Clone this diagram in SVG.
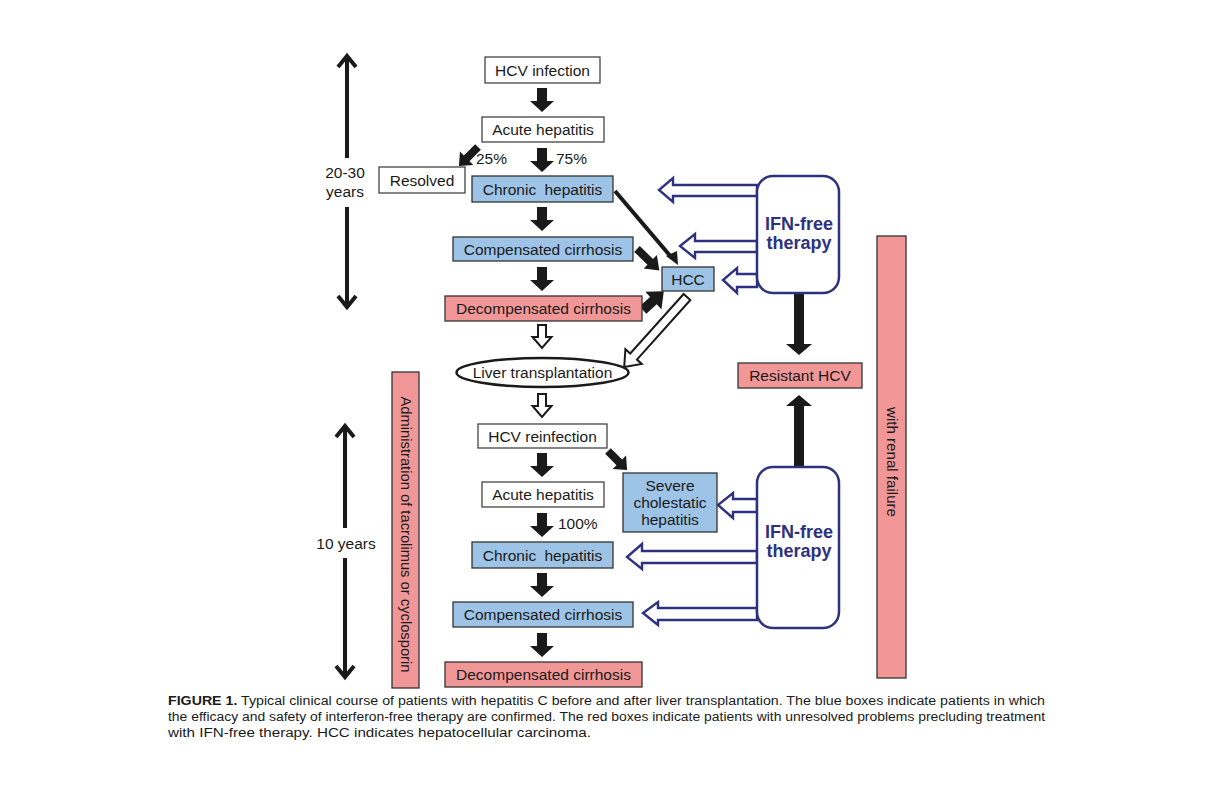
<svg xmlns="http://www.w3.org/2000/svg" width="1215" height="810" viewBox="0 0 1215 810">
<style>
text{font-family:"Liberation Sans",Arial,sans-serif;fill:#1a1a1a}
.t{font-size:15.5px;text-anchor:middle}
.w{fill:#fff;stroke:#444;stroke-width:1.3}
.b{fill:#9dc3e6;stroke:#333;stroke-width:1.3}
.r{fill:#f19797;stroke:#333;stroke-width:1.3}
.ifn{fill:#fff;stroke:#2e3180;stroke-width:2.5}
.ifnt{font-size:18px;font-weight:bold;fill:#2e3180;text-anchor:middle}
.fa{fill:#1a1a1a}
.ha{fill:#fff;stroke:#1a1a1a;stroke-width:2}
.na{fill:#fff;stroke:#2e3180;stroke-width:2.4;stroke-linejoin:miter}
.tl{fill:none;stroke:#1a1a1a;stroke-width:4}
.cap{font-size:12px}
</style>
<defs>
<polygon id="fat" points="-5,0 5,0 5,13 12,13 0,24 -12,13 -5,13"/>
<polygon id="hol" points="-4,0 4,0 4,12 9.5,12 0,23 -9.5,12 -4,12"/>
<polygon id="dia" points="-4,0 4,0 4,16 9.5,16 0,27 -9.5,16 -4,16"/>
</defs>

<g id="connectors">
<use href="#fat" class="fa" transform="translate(542,88)"/>
<use href="#fat" class="fa" transform="translate(542,148)"/>
<use href="#dia" class="fa" transform="translate(478,147) rotate(45)"/>
<use href="#fat" class="fa" transform="translate(542,207)"/>
<use href="#fat" class="fa" transform="translate(542,267)"/>
<line x1="615" y1="191" x2="672" y2="258" stroke="#1a1a1a" stroke-width="4"/>
<polygon class="fa" points="666,256 678,265 677,251"/>
<use href="#dia" class="fa" transform="translate(637,249) rotate(-46) scale(1,1.15)"/>
<polygon class="fa" points="-5,0 5,0 5,14 12,14 0,28 -12,14 -5,14" transform="translate(643,310) rotate(-132)"/>
<use href="#hol" class="ha" transform="translate(542,325)"/>
<polygon class="ha" points="-4.5,0 4.5,0 4.5,80 11,80 0,94 -11,80 -4.5,80" transform="translate(687,297) rotate(41.9)"/>
<use href="#hol" class="ha" transform="translate(542,394)"/>
<use href="#fat" class="fa" transform="translate(542,453)"/>
<use href="#dia" class="fa" transform="translate(608,451) rotate(-45)"/>
<use href="#fat" class="fa" transform="translate(542,513)"/>
<use href="#fat" class="fa" transform="translate(542,573)"/>
<use href="#fat" class="fa" transform="translate(542,633)"/>
<polygon class="fa" points="794,293 804,293 804,344 812,344 799,355 786,344 794,344"/>
<polygon class="fa" points="794,468 804,468 804,406 812,406 799,395 786,406 794,406"/>
<polygon class="na" points="757,185 673,185 673,178 659,190 673,202 673,196 757,196"/>
<polygon class="na" points="757,241 695,241 695,234 680,246 695,258 695,252 757,252"/>
<polygon class="na" points="757,274 737,274 737,268 723,280 737,293 737,287 757,287"/>
<polygon class="na" points="757,499 733,499 733,493 718,505 733,518 733,512 757,512"/>
<polygon class="na" points="757,551 642,551 642,544 627,557 642,569 642,563 757,563"/>
<polygon class="na" points="757,608 658,608 658,602 643,613 658,625 658,620 757,620"/>
</g>

<g id="time1">
<line class="tl" x1="347" y1="57" x2="347" y2="158"/>
<polyline class="tl" points="338,67 347,56 356,67"/>
<line class="tl" x1="347" y1="207" x2="347" y2="306"/>
<polyline class="tl" points="338,296 347,307 356,296"/>
<text class="t" x="345" y="178">20-30</text>
<text class="t" x="345" y="197">years</text>
</g>
<g id="time2">
<line class="tl" x1="345" y1="427" x2="345" y2="528"/>
<polyline class="tl" points="336,437 345,426 354,437"/>
<line class="tl" x1="345" y1="558" x2="345" y2="676"/>
<polyline class="tl" points="336,666 345,677 354,666"/>
<text class="t" x="346" y="549">10 years</text>
</g>

<g id="hcv-infection"><rect class="w" x="485" y="57" width="115" height="26"/><text class="t" x="542.5" y="75.5">HCV infection</text></g>
<g id="acute1"><rect class="w" x="482" y="117" width="122" height="25"/><text class="t" x="543" y="135">Acute hepatitis</text></g>
<g id="pct25"><text x="476" y="164" style="font-size:15.5px">25%</text></g>
<g id="pct75"><text x="556" y="164" style="font-size:15.5px">75%</text></g>
<g id="resolved"><rect class="w" x="379" y="167" width="86" height="26"/><text class="t" x="422" y="185.5">Resolved</text></g>
<g id="chronic1"><rect class="b" x="472" y="176" width="141" height="26"/><text class="t" x="542.5" y="194.5" word-spacing="4">Chronic hepatitis</text></g>
<g id="compensated1"><rect class="b" x="453" y="237" width="180" height="24"/><text class="t" x="543" y="254.5">Compensated cirrhosis</text></g>
<g id="hcc"><rect class="b" x="662" y="267" width="52" height="24"/><text class="t" x="688" y="284.5">HCC</text></g>
<g id="decompensated1"><rect class="r" x="445" y="296" width="197" height="25"/><text class="t" x="543.5" y="314">Decompensated cirrhosis</text></g>
<g id="liver-transplantation"><ellipse cx="542.5" cy="372.5" rx="86" ry="14.5" fill="#fff" stroke="#1a1a1a" stroke-width="2.5"/><text class="t" x="542.5" y="378">Liver transplantation</text></g>
<g id="hcv-reinfection"><rect class="w" x="478" y="424" width="129" height="24"/><text class="t" x="542.5" y="441.5">HCV reinfection</text></g>
<g id="acute2"><rect class="w" x="482" y="482" width="122" height="25"/><text class="t" x="543" y="500">Acute hepatitis</text></g>
<g id="pct100"><text x="558" y="529" style="font-size:15.5px">100%</text></g>
<g id="severe"><rect class="b" x="623" y="473" width="94" height="59"/><text class="t" x="670" y="491">Severe</text><text class="t" x="670" y="508">cholestatic</text><text class="t" x="670" y="525">hepatitis</text></g>
<g id="chronic2"><rect class="b" x="472" y="542" width="141" height="26"/><text class="t" x="542.5" y="560.5" word-spacing="4">Chronic hepatitis</text></g>
<g id="compensated2"><rect class="b" x="453" y="602" width="180" height="25"/><text class="t" x="543" y="620">Compensated cirrhosis</text></g>
<g id="decompensated2"><rect class="r" x="445" y="662" width="197" height="25"/><text class="t" x="543.5" y="680">Decompensated cirrhosis</text></g>

<g id="ifn1"><rect class="ifn" x="757" y="176" width="82" height="117" rx="16"/><text class="ifnt" x="799" y="230">IFN-free</text><text class="ifnt" x="799" y="249">therapy</text></g>
<g id="resistant"><rect class="r" x="738" y="363" width="124" height="25"/><text class="t" x="800" y="381">Resistant HCV</text></g>
<g id="ifn2"><rect class="ifn" x="757" y="467" width="82" height="161" rx="16"/><text class="ifnt" x="799" y="538">IFN-free</text><text class="ifnt" x="799" y="557">therapy</text></g>

<g id="admin-bar"><rect class="r" x="392" y="372" width="27" height="316"/><text transform="translate(405.5,534.5) rotate(90)" text-anchor="middle" dominant-baseline="central" style="font-size:14px" textLength="276" lengthAdjust="spacingAndGlyphs">Administration of  tacrolimus or cyclosporin</text></g>
<g id="renal-bar"><rect class="r" x="877" y="236" width="29" height="442"/><text transform="translate(891.5,462) rotate(90)" text-anchor="middle" dominant-baseline="central" style="font-size:14px" textLength="110" lengthAdjust="spacingAndGlyphs">with renal failure</text></g>

<g id="caption">
<text class="cap" x="168" y="705" textLength="877" lengthAdjust="spacingAndGlyphs"><tspan font-weight="bold">FIGURE 1.</tspan> Typical clinical course of patients with hepatitis C before and after liver transplantation. The blue boxes indicate patients in which</text>
<text class="cap" x="168" y="721" textLength="877" lengthAdjust="spacingAndGlyphs">the efficacy and safety of interferon-free therapy are confirmed. The red boxes indicate patients with unresolved problems precluding treatment</text>
<text class="cap" x="168" y="737" textLength="423" lengthAdjust="spacingAndGlyphs">with IFN-free therapy. HCC indicates hepatocellular carcinoma.</text>
</g>
</svg>
